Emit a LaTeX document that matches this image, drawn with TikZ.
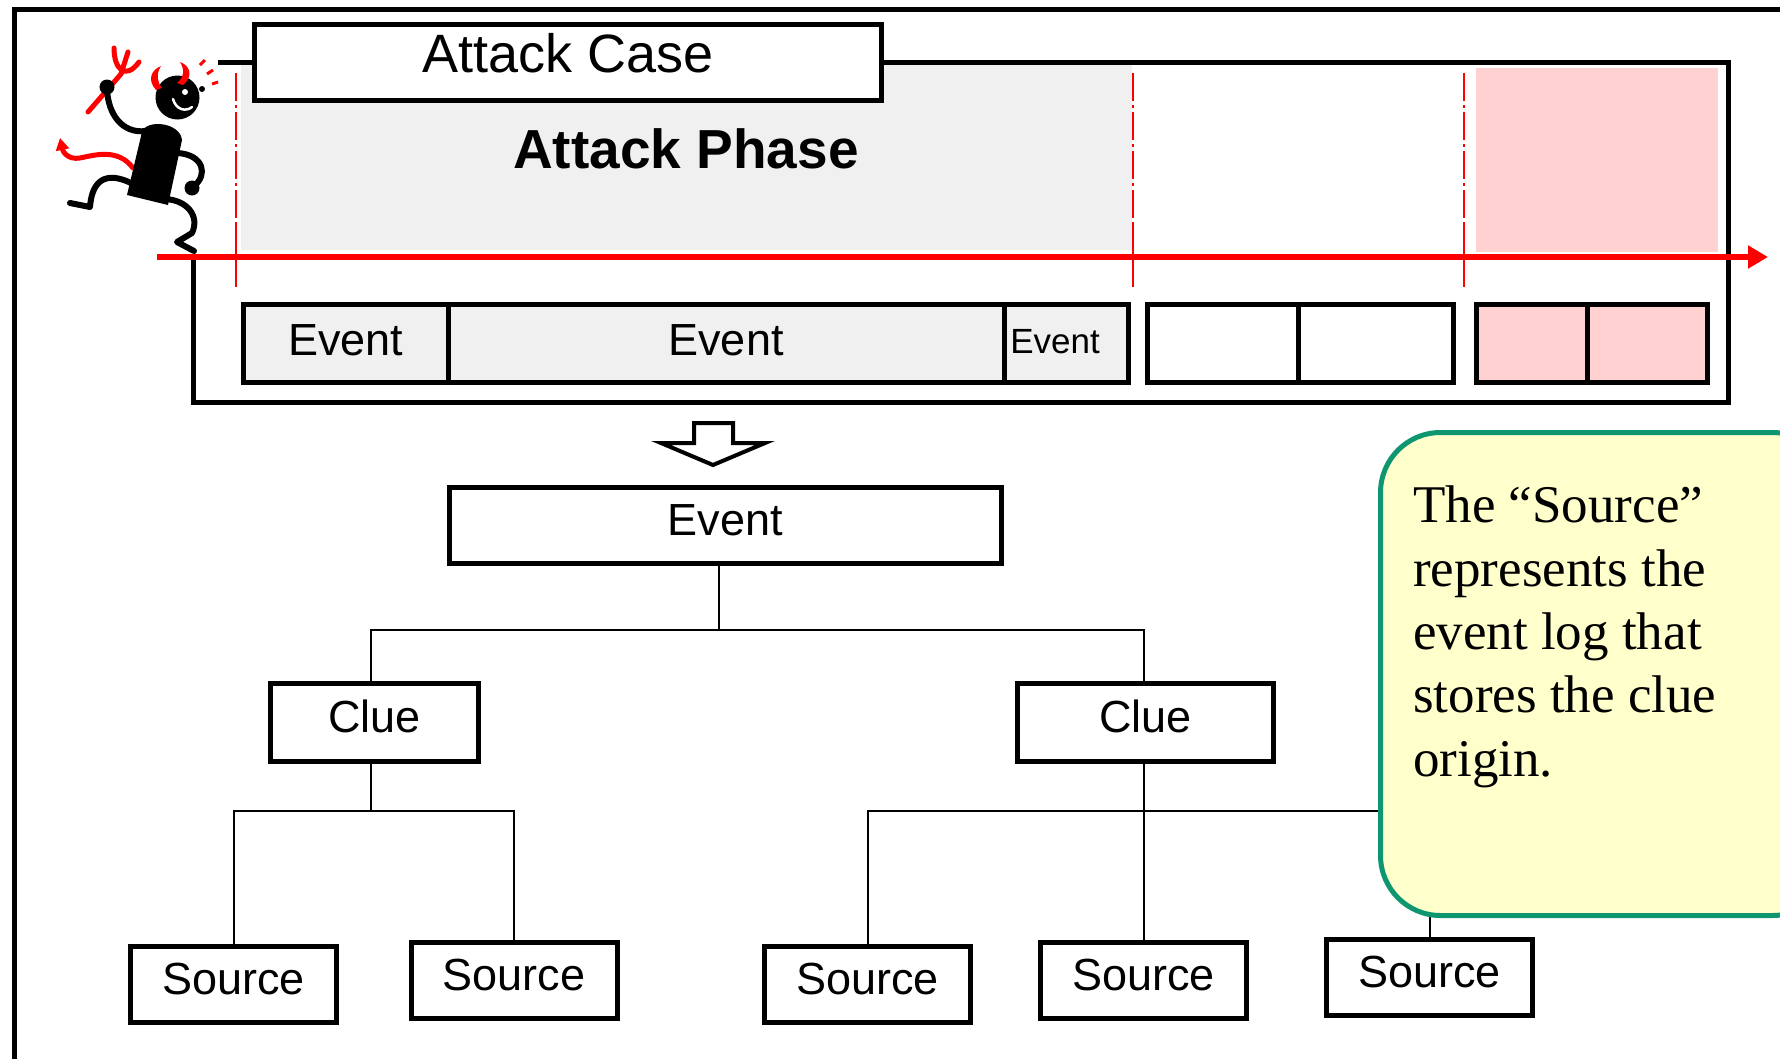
\documentclass[tikz,border=0pt]{standalone}
\usepackage{fontspec}
\setmainfont{Liberation Serif}
\newfontfamily\sansbox{Liberation Sans}
\usetikzlibrary{arrows.meta}
\definecolor{phasegray}{RGB}{240,240,240}
\definecolor{alertpink}{RGB}{255,209,209}
\definecolor{notegreen}{RGB}{14,150,112}
\definecolor{noteyellow}{RGB}{255,255,204}
\definecolor{tline}{RGB}{255,0,0}
\begin{document}
\begin{tikzpicture}[x=1pt,y=-1pt,
  frame/.style={line width=5pt},
  boxlbl/.style={draw, line width=5pt, inner sep=0pt,
    font=\sansbox\fontsize{45}{54}\selectfont, text height=32pt, text depth=12pt},
  rowbox/.style={boxlbl, minimum height=78pt, text depth=8pt},
  srcbox/.style={boxlbl, fill=white, minimum width=206pt, minimum height=76pt},
  conn/.style={line width=2pt},
  redmark/.style={tline, line width=2pt},
  limb/.style={line width=6pt, line cap=round, line join=round},
  redlimb/.style={tline, line width=5pt, line cap=round, line join=round}]
\useasboundingbox (0,0) rectangle (1780,1058);

% outer frame (only the top and left sides fall inside the page)
\draw[frame] (14,1070) -- (14,9.5) -- (1795,9.5);

% phase backgrounds
\fill[phasegray] (241,64) rectangle (1132,250);
\fill[alertpink] (1476,68) rectangle (1718,252);

% attack case container
\draw[frame] (218,62) -- (1728,62) -- (1728,402) -- (193,402) -- (193,257);

% phase boundaries on the time axis
\foreach \px in {236,1133,1464}{
  \draw[redmark, dash pattern=on 28pt off 4pt on 3pt off 4pt] (\px,73) -- (\px,222);
  \draw[redmark] (\px,222) -- (\px,287);
}

% time axis
\coordinate (tstart) at (157,257);
\coordinate (tend) at (1768,257);
\draw[tline, line width=6pt, -{Triangle[length=20pt,width=22pt]}] (tstart) -- (tend);

\node[font=\sansbox\bfseries\fontsize{55}{60}\selectfont] (phase) at (686,149) {Attack Phase};

% event row
\node[rowbox, fill=phasegray, minimum width=204.5pt] (e1) at (345.75,343.5) {Event};
\node[rowbox, fill=phasegray, minimum width=556pt] (e2) at (726,343.5) {Event};
\node[rowbox, fill=phasegray, minimum width=124.5pt, text width=112pt, align=left,
  font=\sansbox\fontsize{35}{40}\selectfont, text height=25pt, text depth=6pt] (e3) at (1066.25,343.5) {Event};
\node[rowbox, fill=white, minimum width=150.5pt] (f1) at (1222.75,343.5) {};
\node[rowbox, fill=white, minimum width=155.5pt] (f2) at (1375.75,343.5) {};
\node[rowbox, fill=alertpink, minimum width=110.5pt] (g1) at (1531.75,343.5) {};
\node[rowbox, fill=alertpink, minimum width=120.5pt] (g2) at (1647.25,343.5) {};

% attack case title
\node[boxlbl, fill=white, minimum width=627pt, minimum height=76pt,
  font=\sansbox\fontsize{54}{60}\selectfont, text height=39pt, text depth=18pt] (case) at (568,62) {Attack Case};

% hollow down arrow
\draw[line width=4pt, fill=white, line join=miter]
  (694,423) -- (733,423) -- (733,443) -- (765,443) -- (713,465) -- (661,443) -- (694,443) -- cycle;

% breakdown tree
\node[boxlbl, fill=white, minimum width=552pt, minimum height=76pt] (ev) at (725.5,525.5) {Event};
\node[boxlbl, fill=white, minimum width=208pt, minimum height=78pt] (clueL) at (374.5,722.5) {Clue};
\node[boxlbl, fill=white, minimum width=256pt, minimum height=78pt] (clueR) at (1145.5,722.5) {Clue};
\node[srcbox] (srcA) at (233.5,984.5) {Source};
\node[srcbox] (srcB) at (514,980) {Source};
\node[srcbox] (srcC) at (867.5,984.5) {Source};
\node[srcbox] (srcD) at (1143.5,980) {Source};
\node[srcbox] (srcE) at (1429.5,977.5) {Source};

\coordinate (j1) at (719,630);
\coordinate (j2) at (371,811);
\coordinate (j3) at (1144,811);
\draw[conn] (ev.south -| j1) -- (j1);
\draw[conn] (clueL.north -| j2) |- (j1) -| (clueR.north -| j3);
\draw[conn] (clueL.south -| j2) -- (j2);
\draw[conn] (srcA.north) |- (j2) -| (srcB.north);
\draw[conn] (clueR.south -| j3) -- (srcD.north -| j3);
\draw[conn] (srcC.north) |- (j3) -| (srcE.north);

% explanatory note
\node[draw=notegreen, fill=noteyellow, line width=5pt, rounded corners=60pt,
  minimum width=452pt, minimum height=483pt, anchor=north west] (note) at (1378,430) {};
\node[anchor=north west, inner sep=0pt, align=left,
  font=\fontsize{53}{63.3}\selectfont] (notetext) at (1413,486)
  {The “Source”\\represents the\\event log that\\stores the clue\\origin.};

% running devil: pitchfork
\draw[redlimb] (88,112) -- (121,74);
\draw[redlimb] (114,48) .. controls (114,70) and (126,80) .. (139,62);
\draw[redlimb] (121,74) -- (128,52);
% tail
\draw[redlimb, -{Triangle[length=12pt,width=13pt]}]
  (133,168) .. controls (118,148) and (95,155) .. (80,158)
  .. controls (68,160) and (63,152) .. (60,138);
% raised arm and hand
\draw[limb] (146,131) .. controls (122,134) and (108,114) .. (107,89);
\fill (107,87) circle (7.5);
% body
\fill (127,195) -- (142,132) .. controls (146,119) and (180,122) .. (182,140)
  -- (168,205) -- cycle;
% other arm and hand
\draw[limb] (178,153) .. controls (204,155) and (208,175) .. (194,186);
\fill (192,188) circle (7.5);
% legs
\draw[limb] (131,183) .. controls (106,171) and (92,180) .. (90,207) -- (70,203);
\draw[limb] (165,199) .. controls (187,200) and (200,216) .. (192,233) -- (177,242) -- (194,251);
% head and face
\fill (177.5,97.5) circle (22);
\fill[white] (185,92) circle (3);
\draw[white, line width=2.5pt, line cap=round] (173,99) .. controls (176,110) and (186,112) .. (192,107);
\fill (202,89) circle (3);
% horns
\fill[tline] (156,90) .. controls (147,80) and (151,70) .. (161,66)
  .. controls (156,74) and (157,82) .. (162,88) -- cycle;
\fill[tline] (183,85) .. controls (193,77) and (191,66) .. (180,62)
  .. controls (185,70) and (184,77) .. (177,83) -- cycle;
% shout marks
\draw[redmark, line width=3pt] (200,65) -- (205,60);
\draw[redmark, line width=3pt] (207,74) -- (213,70);
\draw[redmark, line width=3pt] (212,84) -- (218,82);
\end{tikzpicture}
\end{document}
